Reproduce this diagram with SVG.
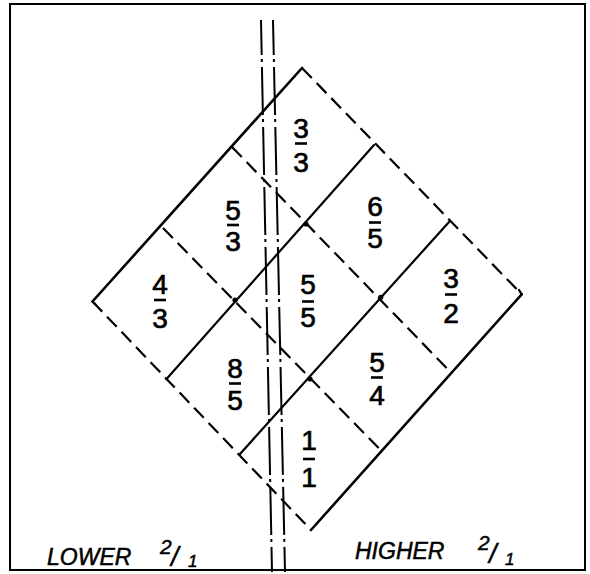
<svg xmlns="http://www.w3.org/2000/svg" width="590" height="574" viewBox="0 0 590 574">
<style>
  .solid { fill: none; stroke: #000; stroke-width: 2.2; stroke-linecap: round; }
  .outer { stroke-width: 2.6; }
  .dash { fill: none; stroke: #000; stroke-width: 2.2; stroke-dasharray: 14 7; }
  .cl { fill: none; stroke: #000; stroke-width: 2; stroke-dasharray: 48 4 3 5; stroke-dashoffset: 13; }
  .num { font-family: "Liberation Sans", "DejaVu Sans", sans-serif; font-size: 28px; fill: #000; text-anchor: middle; stroke: #000; stroke-width: 0.7; }
  .bar { stroke: #000; stroke-width: 2.6; }
  .lbl { font-family: "Liberation Sans", "DejaVu Sans", sans-serif; font-style: italic; font-size: 23px; fill: #000; stroke: #000; stroke-width: 0.5; }
  .sm { font-family: "Liberation Sans", "DejaVu Sans", sans-serif; font-style: italic; font-size: 21px; fill: #000; stroke: #000; stroke-width: 0.5; }
</style>
<rect x="0" y="0" width="590" height="574" fill="#fff"/>
<rect x="10" y="4" width="575" height="566" fill="none" stroke="#000" stroke-width="2"/>

<g id="connectors">
  <line class="solid outer" x1="302" y1="68" x2="92.5" y2="301.5"/>
  <line class="solid outer" x1="521.7" y1="294.3" x2="311" y2="530"/>
  <line class="solid" x1="374" y1="145" x2="166.5" y2="379"/>
  <line class="solid" x1="449" y1="222" x2="240" y2="454"/>
  <line class="dash" x1="302" y1="68" x2="521.7" y2="294.3"/>
  <line class="dash" x1="232" y1="147" x2="451.7" y2="373.3"/>
  <line class="dash" x1="163" y1="228" x2="382.3" y2="451.7"/>
  <line class="dash" x1="92.5" y1="301.5" x2="311" y2="530"/>
  <path class="solid" d="M92.5 301.5 L96 305"/>
  <path class="solid" d="M521.7 294.3 L519 290"/>
  <circle cx="306" cy="224" r="2.6"/>
  <circle cx="235" cy="300" r="2.6"/>
  <circle cx="380.7" cy="297.3" r="2.6"/>
  <circle cx="310" cy="379" r="2.6"/>
  <line class="cl" x1="261" y1="20" x2="272" y2="572"/>
  <line class="cl" x1="273" y1="20" x2="285" y2="572"/>
</g>

<g id="cell-3-3">
  <text class="num" x="301" y="138">3</text>
  <line class="bar" x1="295" y1="143.5" x2="307" y2="143.5"/>
  <text class="num" x="301" y="172">3</text>
</g>
<g id="cell-5-3">
  <text class="num" x="233" y="220">5</text>
  <line class="bar" x1="227" y1="225" x2="239" y2="225"/>
  <text class="num" x="233" y="251">3</text>
</g>
<g id="cell-6-5">
  <text class="num" x="375" y="216">6</text>
  <line class="bar" x1="369" y1="222.5" x2="381" y2="222.5"/>
  <text class="num" x="375" y="248">5</text>
</g>
<g id="cell-4-3">
  <text class="num" x="160" y="294">4</text>
  <line class="bar" x1="154" y1="300" x2="166" y2="300"/>
  <text class="num" x="160" y="328">3</text>
</g>
<g id="cell-5-5">
  <text class="num" x="308" y="294">5</text>
  <line class="bar" x1="302" y1="301.5" x2="314" y2="301.5"/>
  <text class="num" x="308" y="327">5</text>
</g>
<g id="cell-3-2">
  <text class="num" x="451" y="288">3</text>
  <line class="bar" x1="445" y1="294.5" x2="457" y2="294.5"/>
  <text class="num" x="451" y="323">2</text>
</g>
<g id="cell-8-5">
  <text class="num" x="235" y="378">8</text>
  <line class="bar" x1="229" y1="383.5" x2="241" y2="383.5"/>
  <text class="num" x="235" y="410">5</text>
</g>
<g id="cell-5-4">
  <text class="num" x="377" y="372">5</text>
  <line class="bar" x1="371" y1="377.5" x2="383" y2="377.5"/>
  <text class="num" x="377" y="405">4</text>
</g>
<g id="cell-1-1">
  <text class="num" x="309" y="450">1</text>
  <line class="bar" x1="303" y1="459" x2="315" y2="459"/>
  <text class="num" x="309" y="487">1</text>
</g>

<g id="label-lower">
  <text class="lbl" x="47" y="565">LOWER</text>
  <text class="sm"><tspan x="160" y="554">2</tspan><tspan x="171" y="566" font-size="27">/</tspan><tspan x="188" y="567" font-size="17">1</tspan></text>
</g>
<g id="label-higher">
  <text class="lbl" x="355" y="559">HIGHER</text>
  <text class="sm"><tspan x="478" y="550">2</tspan><tspan x="489" y="563" font-size="27">/</tspan><tspan x="505" y="565" font-size="17">1</tspan></text>
</g>
</svg>
